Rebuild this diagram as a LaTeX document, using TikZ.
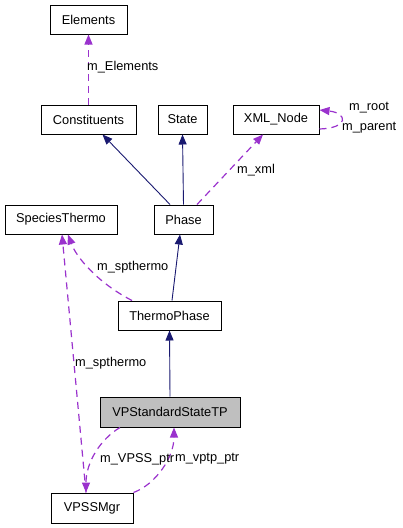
\documentclass[tikz,border=0pt]{standalone}
\usepackage{fontspec}
\setmainfont{Liberation Sans}
\usetikzlibrary{arrows.meta}
\definecolor{isacol}{HTML}{191970}
\definecolor{usecol}{HTML}{9A32CD}
\definecolor{curcol}{HTML}{BFBFBF}
\begin{document}
\begin{tikzpicture}[x=1pt,y=-1pt,>={Triangle[length=10pt,width=8pt]},
  cls/.style={draw,line width=1pt,minimum height=29pt,inner sep=0pt,font=\fontsize{12.8}{15}\selectfont},
  lbl/.style={anchor=west,inner sep=0pt,font=\fontsize{12.8}{15}\selectfont},
  isa/.style={->,draw=isacol,line width=0.9pt},
  uses/.style={->,draw=usecol,line width=1.2pt,dash pattern=on 7pt off 5pt}]
\useasboundingbox (0,0) rectangle (403,528);
	\node[cls,minimum width=77pt](Elements)at(88.5,19.5){Elements};
	\node[cls,minimum width=95pt](Constituents)at(88.5,119.5){Constituents};
	\node[cls,minimum width=49pt](State)at(182.5,119.5){State};
	\node[cls,minimum width=86pt](XMLNode)at(276,119.5){XML\_Node};
	\node[cls,minimum width=112pt](SpeciesThermo)at(61,219.5){SpeciesThermo};
	\node[cls,minimum width=59pt](Phase)at(183.5,219.5){Phase};
	\node[cls,minimum width=103pt](ThermoPhase)at(169.5,315.5){ThermoPhase};
	\node[cls,minimum width=140pt,minimum height=30pt,fill=curcol](VPStandardStateTP)at(170,412){VPStandardStateTP};
	\node[cls,minimum width=82pt,minimum height=30pt](VPSSMgr)at(92,508){VPSSMgr};
	% inheritance
	\draw[isa]([xshift=-13.5pt]Phase.north)--([xshift=14pt]Constituents.south);
	\draw[isa](Phase.north)--(State.south);
	\draw[isa]([xshift=2.5pt]ThermoPhase.north)--([xshift=-3.5pt]Phase.south);
	\draw[isa](VPStandardStateTP.north)--(ThermoPhase.south);
	% members
	\draw[uses](Constituents.north)--(Elements.south);
	\draw[uses]([xshift=13.5pt]Phase.north)--([xshift=-13pt]XMLNode.south);
	\draw[uses]([yshift=-9.5pt]XMLNode.east).. controls +(30,-1) and +(28,3) ..([yshift=9.5pt]XMLNode.east);
	\draw[uses]([xshift=-37.5pt]ThermoPhase.north).. controls +(-35,-18) and +(8,22) ..([xshift=7pt]SpeciesThermo.south);
	\draw[uses]([xshift=-6pt]VPSSMgr.north)--([xshift=1pt]SpeciesThermo.south);
	\draw[uses]([xshift=-50pt]VPStandardStateTP.south).. controls +(-20,12) and +(0,-30) ..([xshift=-6pt]VPSSMgr.north);
	\draw[uses](VPSSMgr.north east).. controls +(22,-8) and +(0,30) ..([xshift=4pt]VPStandardStateTP.south);
	% member names
	\node[lbl](lElements)at(87,67){m\_Elements};
	\node[lbl](lroot)at(349,108){m\_root};
	\node[lbl](lparent)at(342,128){m\_parent};
	\node[lbl](lxml)at(237,170){m\_xml};
	\node[lbl](lspthermoA)at(97,267){m\_spthermo};
	\node[lbl](lspthermoB)at(75,363){m\_spthermo};
	\node[lbl](lVPSS)at(100,459){m\_VPSS\_ptr};
	\node[lbl](lvptp)at(175,459){m\_vptp\_ptr};
\end{tikzpicture}
\end{document}
